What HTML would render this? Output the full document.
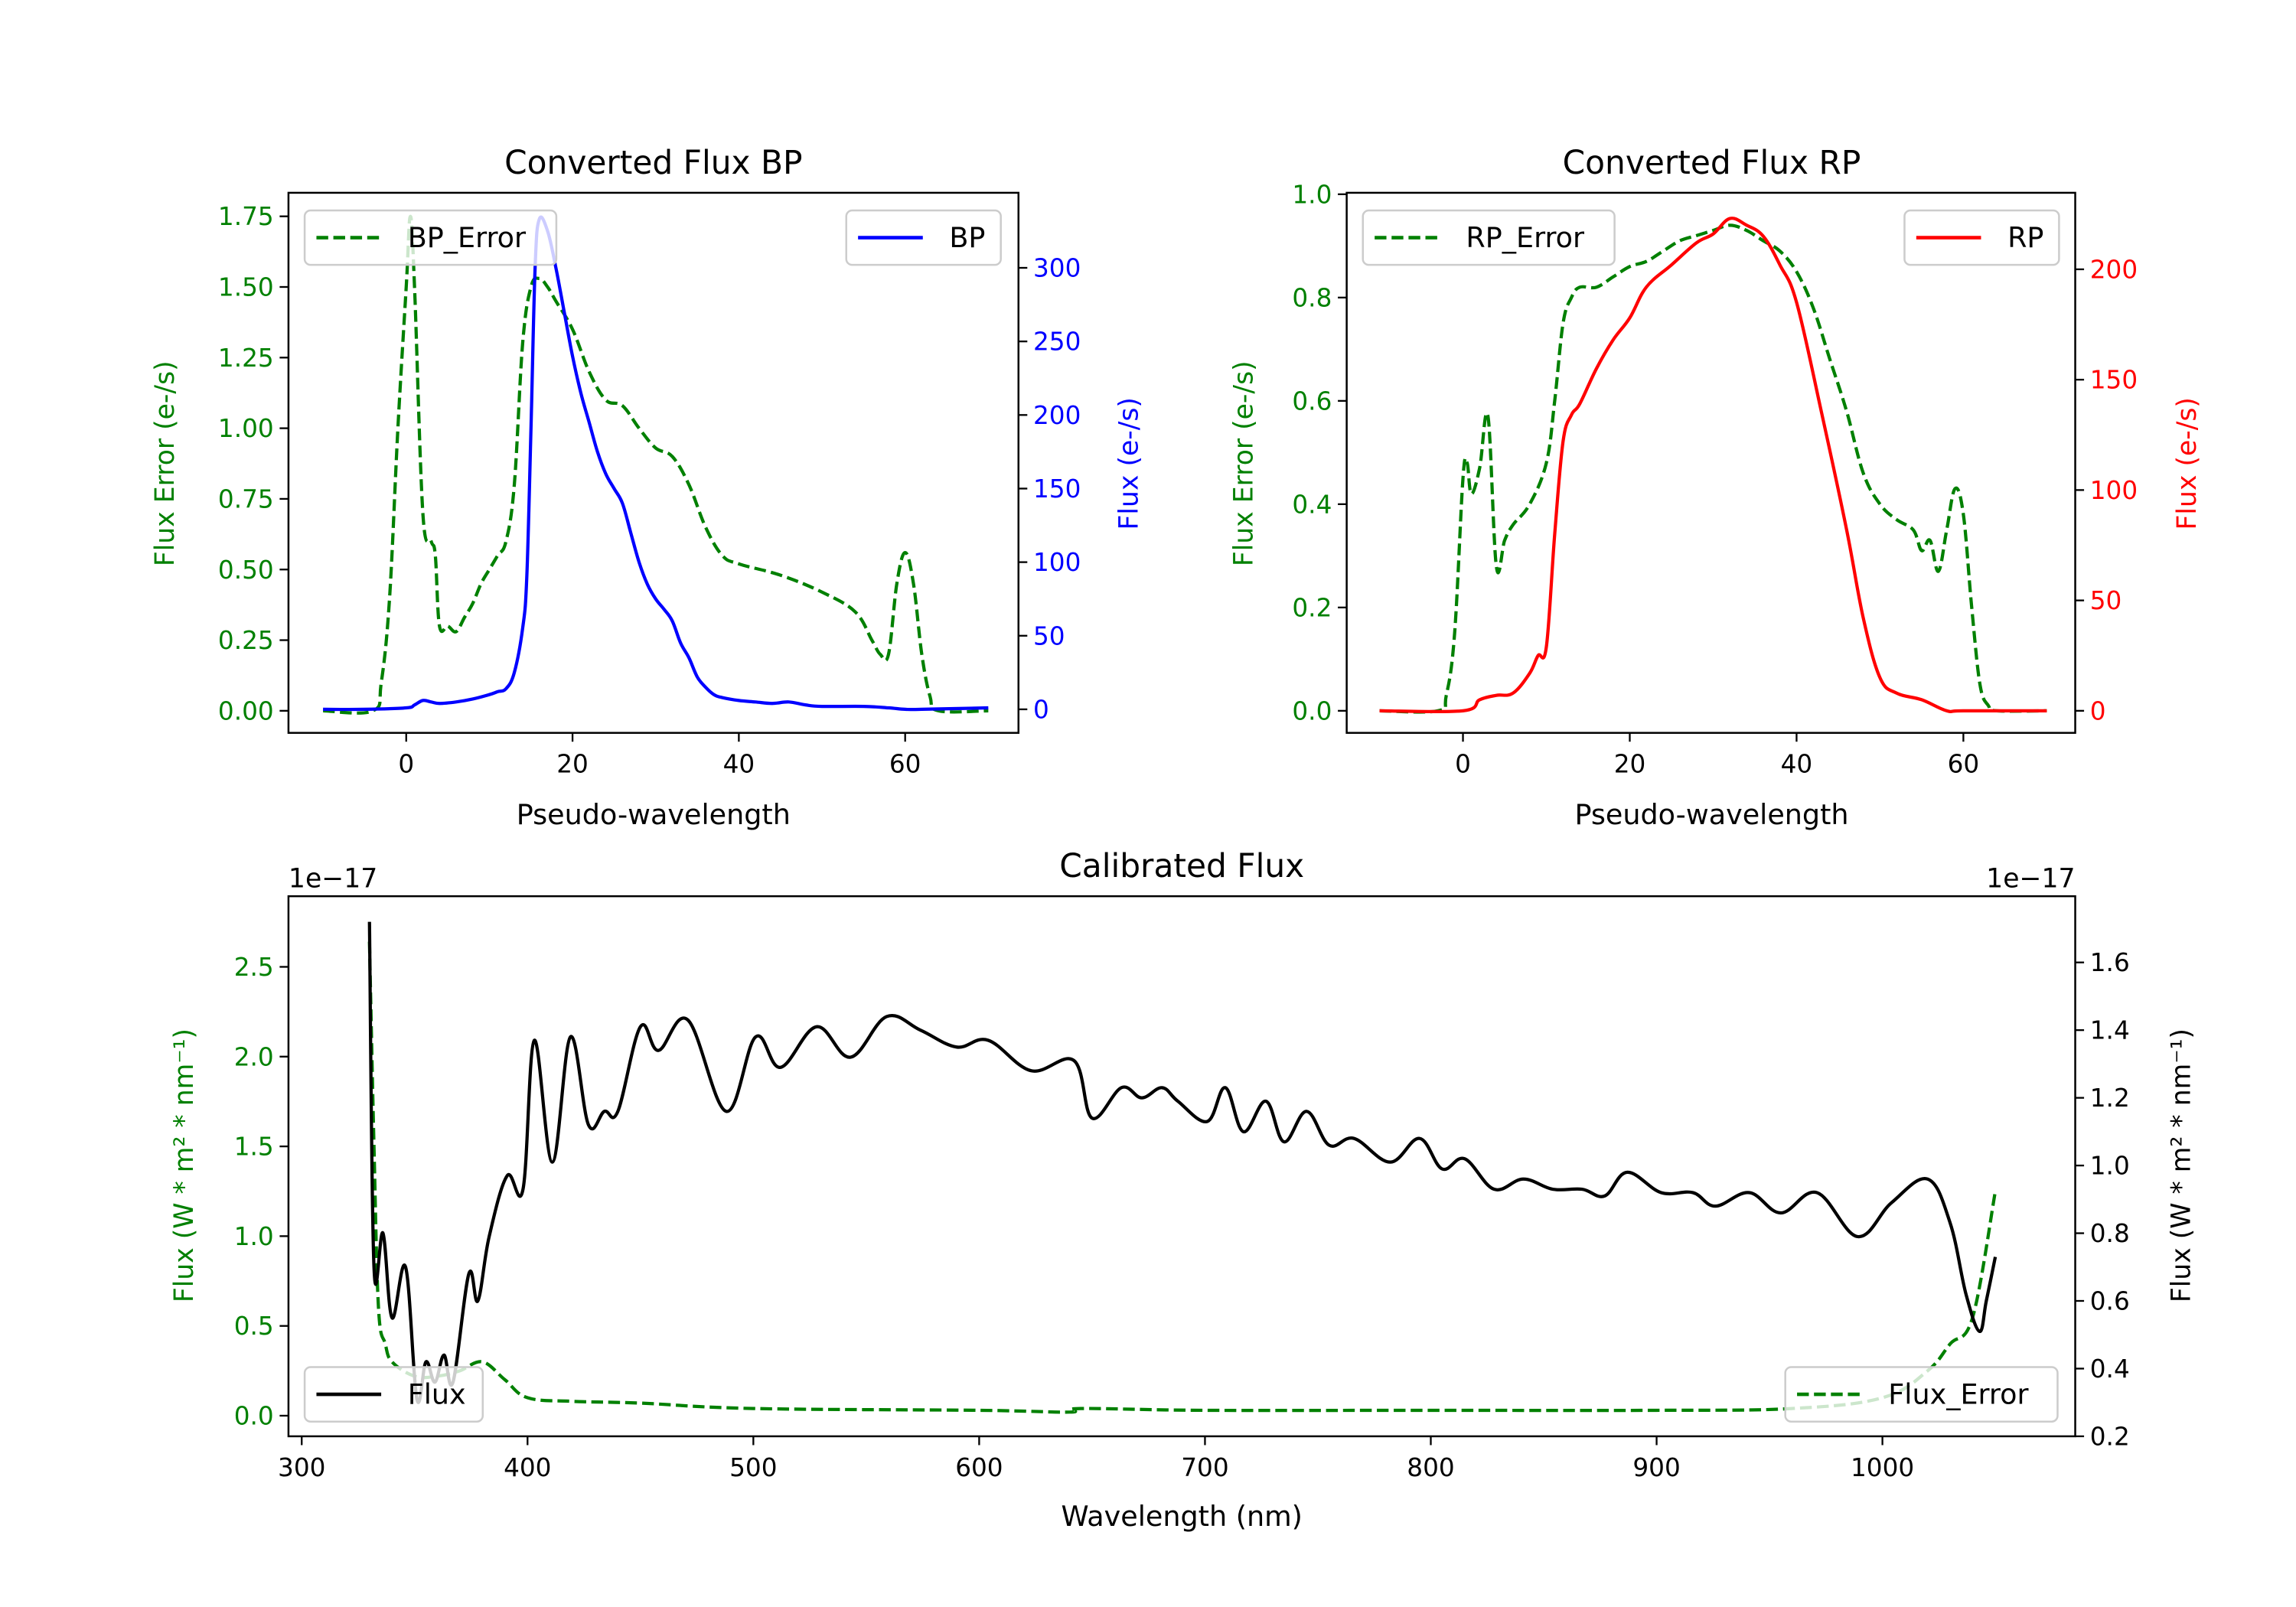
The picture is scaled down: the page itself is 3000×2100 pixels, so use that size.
<!DOCTYPE html>
<html><head><meta charset="utf-8"><style>
html,body{margin:0;padding:0;background:#fff;}
svg{display:block;font-family:"DejaVu Sans","Liberation Sans",sans-serif;}
</style></head><body>
<svg id="fig" width="3000" height="2100" viewBox="0 0 1560 1092" preserveAspectRatio="none" xmlns="http://www.w3.org/2000/svg">
<rect width="1560" height="1092" fill="#fff"/>
</svg>
<script>
// ---- BP panel data ----
const bpX = [-10,-5,0,1,2,3,4,6,8,10,11,12,13,14,14.5,15,15.5,16,17,18,19,20,21,22,23,24,25,26,27,28,29,30,31,32,33,34,35,36,37,38,40,42,44,46,48,50,55,58,60,62,70];
const bpFlux = [0,0,1,3,6,5,4,5,7,10,12,14,25,55,90,190,300,333,325,300,270,240,215,195,175,160,150,140,120,100,85,75,68,60,45,35,22,15,10,8,6,5,4,5,3,2,2,1,0,0,1];
const bpErrX = [-10,-4,-3,-2,-1,0,0.5,1,2,3,3.5,4,5,6,7,8,9,10,11,12,13,14,15,16,17,18,20,22,24,26,28,30,32,34,36,38,40,45,50,54,56,57,58,59,60,61,62,63,64,70];
const bpErr = [0,0,0.1,0.4,1.0,1.5,1.75,1.5,0.7,0.6,0.55,0.3,0.3,0.28,0.33,0.38,0.45,0.5,0.55,0.6,0.8,1.3,1.5,1.53,1.5,1.45,1.35,1.2,1.1,1.08,1.0,0.93,0.9,0.8,0.65,0.55,0.52,0.48,0.42,0.35,0.25,0.2,0.2,0.45,0.56,0.45,0.2,0.05,0,0];
// ---- RP panel data ----
const rpX = [-10,0,2,4,6,8,9,10,11,12,13,14,16,18,20,22,25,28,30,32,34,36,38,40,43,46,48,50,52,55,58,60,70];
const rpFlux = [0,0,5,7,8,17,25,29,80,122,134,139,155,168,178,192,202,212,216,223,220,215,202,185,135,82,42,15,8,5,0,0,0];
const rpErrX = [-10,-3,-2,-1,0,0.5,1,2,3,4,5,6,8,10,11,12,13,14,16,18,20,22,24,26,28,30,32,34,36,38,40,42,44,46,48,50,52,54,55,56,57,58,59,60,61,62,63,64,70];
const rpErr = [0,0,0.03,0.15,0.45,0.48,0.42,0.47,0.57,0.28,0.33,0.36,0.4,0.48,0.6,0.75,0.8,0.82,0.82,0.84,0.86,0.87,0.89,0.91,0.92,0.93,0.94,0.93,0.91,0.89,0.85,0.78,0.68,0.58,0.46,0.4,0.37,0.35,0.31,0.33,0.27,0.35,0.43,0.38,0.2,0.05,0.01,0,0];
// ---- Calibrated flux data (units 1e-17) ----
const calWl = [330,332,336,340,346,351,355,359,363,367,374,378,383,391,398,403,411,419,427,434,440,450,458,471,488,501,512,528,543,559,574,590,604,623,642,650,663,672,681,688,701,709,717,727,735,745,755,766,782,795,805,815,828,841,854,867,877,887,902,916,926,941,955,971,989,1004,1020,1030,1037,1043,1046,1050];
const calFlux = [1.72,0.70,0.80,0.55,0.70,0.31,0.42,0.36,0.44,0.36,0.68,0.60,0.79,0.97,0.93,1.37,1.01,1.38,1.12,1.16,1.16,1.41,1.34,1.43,1.16,1.38,1.29,1.41,1.32,1.44,1.40,1.35,1.37,1.28,1.31,1.14,1.23,1.20,1.23,1.19,1.13,1.23,1.10,1.19,1.07,1.16,1.06,1.08,1.01,1.08,0.99,1.02,0.93,0.96,0.93,0.93,0.91,0.98,0.92,0.92,0.88,0.92,0.86,0.92,0.79,0.89,0.96,0.83,0.62,0.51,0.60,0.73];
const errWl = [330,332,334,337,340,350,360,370,380,390,400,420,450,500,600,640,645,700,800,900,960,1000,1020,1030,1040,1050];
const calErr = [2.64,1.5,0.6,0.4,0.3,0.22,0.22,0.25,0.3,0.2,0.1,0.08,0.07,0.04,0.03,0.02,0.04,0.03,0.03,0.03,0.04,0.1,0.25,0.4,0.55,1.25];
// tick labels
const bpXTicks = [0,20,40,60];
const bpLTicks = [0,0.25,0.5,0.75,1.0,1.25,1.5,1.75];
const bpRTicks = [0,50,100,150,200,250,300];
const rpLTicks = [0,0.2,0.4,0.6,0.8,1.0];
const rpRTicks = [0,50,100,150,200];
const calXTicks = [300,400,500,600,700,800,900,1000];
const calLTicks = [0,0.5,1.0,1.5,2.0,2.5];
const calRTicks = [0.2,0.4,0.6,0.8,1.0,1.2,1.4,1.6];

const NS="http://www.w3.org/2000/svg";
const svg=document.getElementById('fig');
function mk(tag,attrs,parent){const e=document.createElementNS(NS,tag);for(const k in attrs)e.setAttribute(k,attrs[k]);(parent||svg).appendChild(e);return e;}
function lin(d0,d1,r0,r1){return v=>r0+(v-d0)*(r1-r0)/(d1-d0);}
function txt(x,y,s,opts,parent){const t=mk('text',Object.assign({x:x,y:y,'font-size':17,fill:'#000'},opts||{}),parent);t.textContent=s;return t;}
function path(xs,ys,sx,sy,stroke,dash,name,w){
 const P=xs.map((x,i)=>[sx(x),sy(ys[i])]);
 let d='M'+P[0][0].toFixed(2)+','+P[0][1].toFixed(2);
 for(let i=0;i<P.length-1;i++){const p0=P[Math.max(0,i-1)],p1=P[i],p2=P[i+1],p3=P[Math.min(P.length-1,i+2)];
  const t=0.18;
  const c1=[p1[0]+(p2[0]-p0[0])*t,p1[1]+(p2[1]-p0[1])*t];
  const c2=[p2[0]-(p3[0]-p1[0])*t,p2[1]-(p3[1]-p1[1])*t];
  d+='C'+c1[0].toFixed(2)+','+c1[1].toFixed(2)+' '+c2[0].toFixed(2)+','+c2[1].toFixed(2)+' '+p2[0].toFixed(2)+','+p2[1].toFixed(2);}
 const p=mk('path',{d:d,fill:'none',stroke:stroke,'stroke-width':w||2.2,'stroke-dasharray':dash||'none','stroke-linejoin':'round'});
 
 
 return p;}
function fmt(v,dec){return v.toFixed(dec);}
function yTicks(x,ticks,sy,side,color,dec,name){
 const g=mk('g',{});
 
 
 ticks.forEach(v=>{const y=sy(v);
  mk('line',{x1:x,x2:side<0?x-6:x+6,y1:y,y2:y,stroke:'#000','stroke-width':1.2},g);
  txt(side<0?x-10:x+10,y+6,fmt(v,dec),{'text-anchor':side<0?'end':'start',fill:color},g);});}
function xTicks(y,ticks,sx,name){
 const g=mk('g',{});
 
 
 ticks.forEach(v=>{const x=sx(v);mk('line',{x1:x,x2:x,y1:y,y2:y+6,stroke:'#000','stroke-width':1.2},g);txt(x,y+27,String(v),{'text-anchor':'middle'},g);});}
function frame(x0,y0,x1,y1,name){const r=mk('rect',{x:x0,y:y0,width:x1-x0,height:y1-y0,fill:'none',stroke:'#000','stroke-width':1.3});
 
 }
function vlabel(x,y,s,color,name){const t=txt(x,y,s,{'text-anchor':'middle',fill:color,transform:'rotate(-90 '+x+' '+y+')','font-size':18});
 
 return t;}
function label(x,y,s,name,size){const t=txt(x,y,s,{'text-anchor':'middle','font-size':size||19});
 
 return t;}
function legend(x,y,w,label_,color,dash,name){const g=mk('g',{});
 
 
 mk('rect',{x:x,y:y,width:w,height:37,rx:4,fill:'#fff','fill-opacity':0.8,stroke:'#ccc','stroke-width':1.3},g);
 mk('line',{x1:x+8,x2:x+52,y1:y+18.5,y2:y+18.5,stroke:color,'stroke-width':2.4,'stroke-dasharray':dash||'none'},g);
 txt(x+70,y+25,label_,{'font-size':19},g);}

const DASH='8,3.5';
// ===== BP panel =====
{const sx=lin(0,60,276,615), sl=lin(0,1.75,483,147), sr=lin(0,300,482,182);
 frame(196,131,692,498,'bp-plot-area');
 path(bpErrX,bpErr,sx,sl,'#008000',DASH,'bp-error-line');
 path(bpX,bpFlux,sx,sr,'#0000ff',null,'bp-flux-line');
 xTicks(498,bpXTicks,sx,'bp-x-axis');
 yTicks(196,bpLTicks,sl,-1,'#008000',2,'bp-left-y-axis');
 yTicks(692,bpRTicks,sr,1,'#0000ff',0,'bp-right-y-axis');
 label(444,118,'Converted Flux BP','bp-title',22);
 label(444,560,'Pseudo-wavelength','bp-x-axis-title');
 vlabel(118,315,'Flux Error (e-/s)','#008000','bp-left-y-title');
 vlabel(773,315,'Flux (e-/s)','#0000ff','bp-right-y-title');
 legend(207,143,171,'BP_Error','#008000',DASH,'bp-error-legend');
 legend(575,143,105,'BP','#0000ff',null,'bp-legend');}
// ===== RP panel =====
{const sx=lin(0,60,994,1334), sl=lin(0,1.0,483,132), sr=lin(0,200,483,183);
 frame(915,131,1410,498,'rp-plot-area');
 path(rpErrX,rpErr,sx,sl,'#008000',DASH,'rp-error-line');
 path(rpX,rpFlux,sx,sr,'#ff0000',null,'rp-flux-line');
 xTicks(498,bpXTicks,sx,'rp-x-axis');
 yTicks(915,rpLTicks,sl,-1,'#008000',1,'rp-left-y-axis');
 yTicks(1410,rpRTicks,sr,1,'#ff0000',0,'rp-right-y-axis');
 label(1163,118,'Converted Flux RP','rp-title',22);
 label(1163,560,'Pseudo-wavelength','rp-x-axis-title');
 vlabel(851,315,'Flux Error (e-/s)','#008000','rp-left-y-title');
 vlabel(1492,315,'Flux (e-/s)','#ff0000','rp-right-y-title');
 legend(926,143,171,'RP_Error','#008000',DASH,'rp-error-legend');
 legend(1294,143,105,'RP','#ff0000',null,'rp-legend');}
// ===== Calibrated panel =====
{const sx=lin(300,1000,205,1279), sl=lin(0,2.5,962,657), sr=lin(0.2,1.6,976,654);
 frame(196,609,1410,976,'calibrated-plot-area');
 path(errWl,calErr,sx,sl,'#008000',DASH,'calibrated-error-line');
 path(calWl,calFlux,sx,sr,'#000000',null,'calibrated-flux-line');
 xTicks(976,calXTicks,sx,'calibrated-x-axis');
 yTicks(196,calLTicks,sl,-1,'#008000',1,'calibrated-left-y-axis');
 yTicks(1410,calRTicks,sr,1,'#000000',1,'calibrated-right-y-axis');
 label(803,596,'Calibrated Flux','calibrated-title',22);
 label(803,1037,'Wavelength (nm)','calibrated-x-axis-title');
 const o1=txt(196,603,'1e\u221217',{'font-size':18});  
 const o2=txt(1410,603,'1e\u221217',{'font-size':18,'text-anchor':'end'});  
 vlabel(131,792,'Flux (W * m\u00B2 * nm\u207B\u00B9)','#008000','calibrated-left-y-title');
 vlabel(1488,792,'Flux (W * m\u00B2 * nm\u207B\u00B9)','#000000','calibrated-right-y-title');
 legend(207,929,121,'Flux','#000000',null,'flux-legend');
 legend(1213,929,185,'Flux_Error','#008000',DASH,'flux-error-legend');}
</script>
</body></html>
